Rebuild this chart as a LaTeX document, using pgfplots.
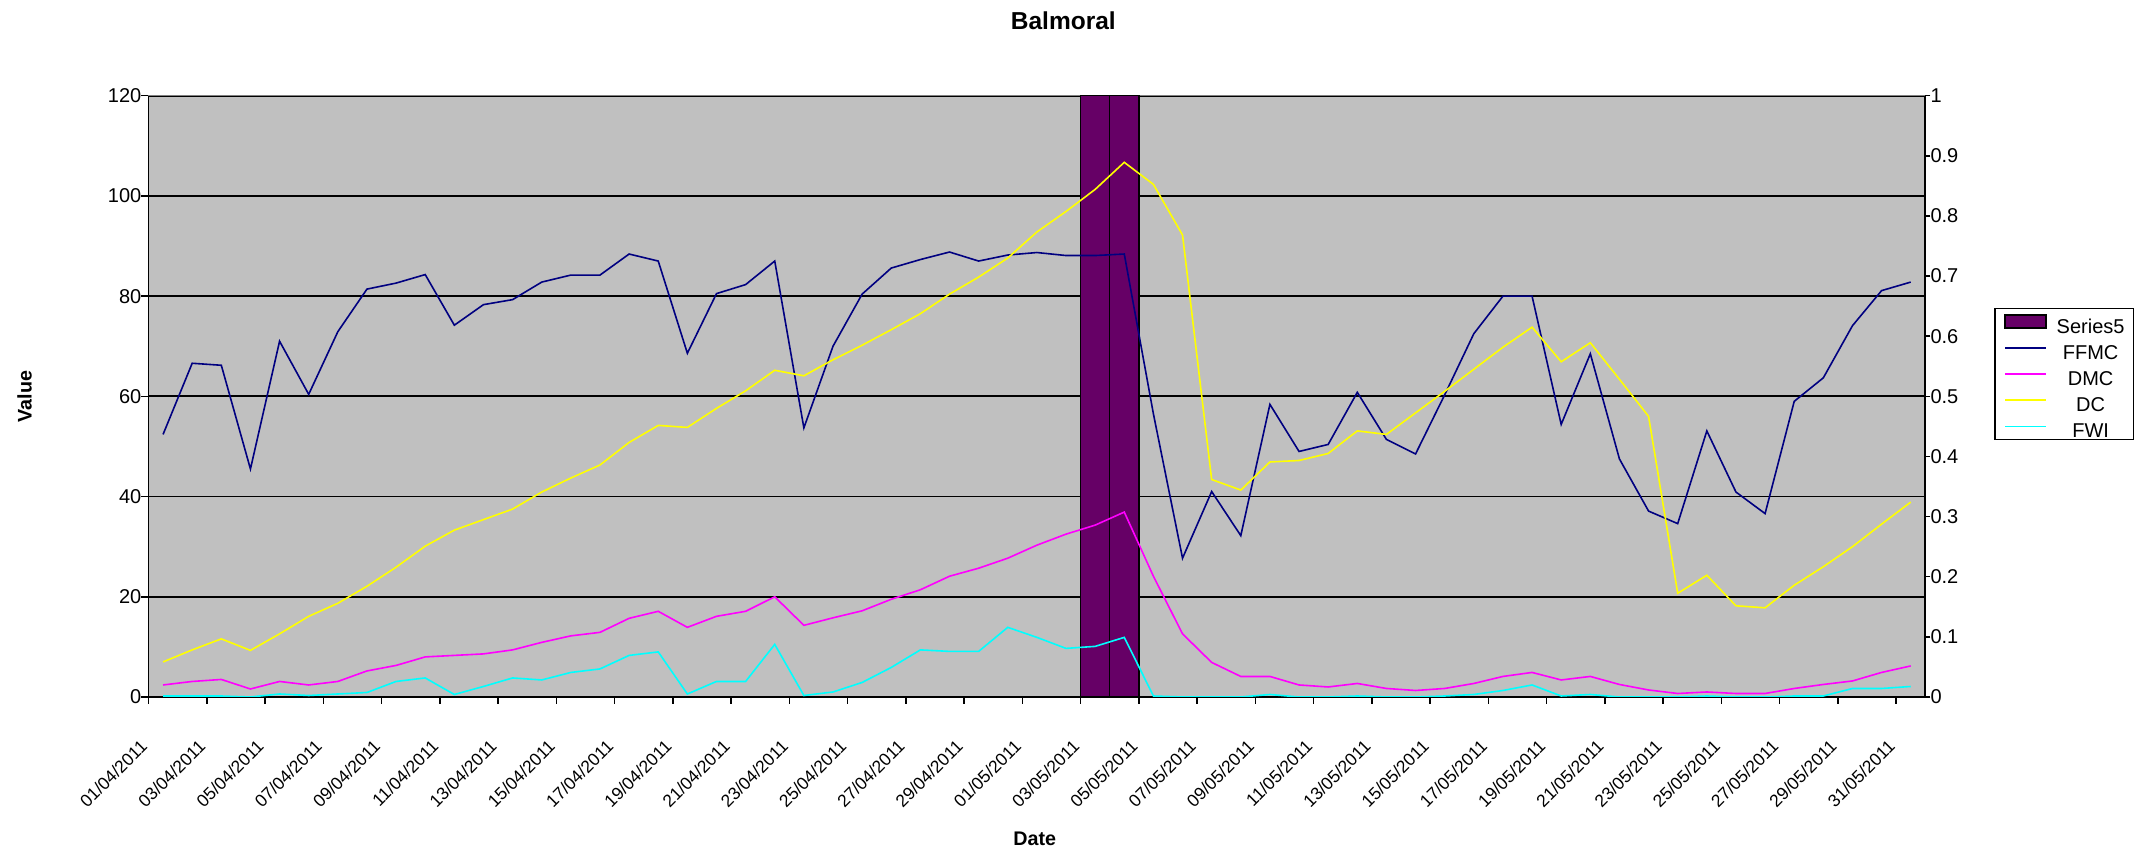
\documentclass[border=0pt]{standalone}
\usepackage{fontspec}
\setmainfont{Liberation Sans}
\usepackage{pgfplots}
\usepackage{pgfplotstable}
\pgfplotsset{compat=1.18}

\definecolor{plotgray}{HTML}{C0C0C0}
\definecolor{framegray}{HTML}{808080}
\definecolor{ffmc}{HTML}{000080}
\definecolor{dmc}{HTML}{FF00FF}
\definecolor{dc}{HTML}{FFFF00}
\definecolor{fwi}{HTML}{00FFFF}
\definecolor{series5}{HTML}{660066}

\newcommand\tickfont{\fontsize{20}{24}\selectfont}
\newcommand\datefont{\fontsize{17.5}{21}\selectfont}
\newcommand\labelfont{\bfseries\fontsize{19.7}{24}\selectfont}

% Daily fire weather indices, Balmoral, 01/04/2011 (day 0) to 31/05/2011 (day 60)
\pgfplotstableread{
day FFMC DMC DC FWI
0 52.4 2.4 7.0 0.2
1 66.6 3.1 9.4 0.2
2 66.2 3.5 11.6 0.2
3 45.5 1.6 9.3 0.0
4 71.0 3.1 12.6 0.6
5 60.4 2.4 16.1 0.3
6 72.9 3.1 18.7 0.6
7 81.4 5.2 22.1 0.9
8 82.6 6.3 25.9 3.1
9 84.3 8.0 30.1 3.8
10 74.2 8.3 33.3 0.5
11 78.3 8.6 35.4 2.1
12 79.3 9.4 37.5 3.8
13 82.8 10.9 40.9 3.4
14 84.2 12.2 43.7 4.9
15 84.2 12.9 46.3 5.6
16 88.4 15.7 50.8 8.3
17 87.0 17.1 54.2 9.0
18 68.6 13.9 53.8 0.6
19 80.5 16.1 57.6 3.1
20 82.3 17.1 61.1 3.1
21 87.0 20.0 65.2 10.5
22 53.7 14.3 64.1 0.3
23 70.0 15.8 67.3 1.0
24 80.4 17.2 70.2 2.9
25 85.6 19.5 73.3 5.9
26 87.3 21.4 76.5 9.4
27 88.8 24.1 80.4 9.1
28 87.0 25.7 83.8 9.1
29 88.2 27.7 87.6 13.9
30 88.7 30.3 92.8 11.9
31 88.1 32.5 96.9 9.7
32 88.1 34.3 101.3 10.1
33 88.4 36.9 106.7 11.9
34 56.5 24.1 102.3 0.2
35 27.7 12.6 92.2 0.0
36 41.0 6.9 43.4 0.0
37 32.2 4.1 41.3 0.0
38 58.4 4.1 46.9 0.5
39 49.0 2.4 47.2 0.0
40 50.4 2.0 48.6 0.0
41 60.8 2.7 53.1 0.2
42 51.4 1.7 52.4 0.0
43 48.5 1.3 56.7 0.0
44 60.3 1.7 61.0 0.2
45 72.5 2.7 65.4 0.5
46 80.0 4.1 69.8 1.3
47 80.0 4.9 73.8 2.4
48 54.4 3.4 66.9 0.2
49 68.5 4.1 70.7 0.5
50 47.5 2.5 63.4 0.0
51 37.1 1.4 56.0 0.0
52 34.6 0.7 20.7 0.0
53 53.1 1.0 24.3 0.2
54 40.9 0.7 18.2 0.0
55 36.6 0.7 17.8 0.0
56 59.0 1.7 22.3 0.2
57 63.7 2.5 26.0 0.2
58 74.1 3.2 30.0 1.7
59 81.1 4.9 34.5 1.7
60 82.8 6.2 38.9 2.1
}\indices

% Series5: marked days 03/05 and 04/05 on the secondary axis
\pgfplotstableread{
day S5
32 1
33 1
}\seriesfive

\pgfplotsset{
  panel/.style={
    scale only axis,
    width=1776.8pt, height=601.3pt,
    xmin=-0.5, xmax=60.5,
    /pgf/number format/assume math mode=true,
  },
}

\begin{document}
\begin{tikzpicture}
% background, grid, frame, ticks and labels
\begin{axis}[
  panel,
  ymin=0, ymax=120,
  axis background/.style={fill=plotgray},
  axis line style={draw=none},
  ymajorgrids,
  grid style={black, line width=1.8pt},
  xtick pos=left, ytick pos=left,
  tick align=outside,
  major tick length=7pt,
  tick style={black, line width=1.5pt},
  ytick={0,20,...,120},
  yticklabels={0,20,40,60,80,100,120},
  yticklabel style={font=\tickfont, anchor=east, inner sep=0pt},
  xtick={-0.5,1.5,...,59.5},
  xticklabels={},
  extra x ticks={0,2,...,60},
  extra x tick labels={01/04/2011,03/04/2011,05/04/2011,07/04/2011,09/04/2011,11/04/2011,13/04/2011,15/04/2011,17/04/2011,19/04/2011,21/04/2011,23/04/2011,25/04/2011,27/04/2011,29/04/2011,01/05/2011,03/05/2011,05/05/2011,07/05/2011,09/05/2011,11/05/2011,13/05/2011,15/05/2011,17/05/2011,19/05/2011,21/05/2011,23/05/2011,25/05/2011,27/05/2011,29/05/2011,31/05/2011},
  extra x tick style={major tick length=0pt},
  xticklabel style={font=\datefont, inner sep=0pt, xshift=-19pt, yshift=-46pt, rotate=45, anchor=east},
  title={Balmoral},
  xlabel={Date},
  ylabel={Value},
  every axis title/.style={at={(axis description cs:0.5149,1.12506)}, anchor=center, font=\bfseries\fontsize{24.5}{29}\selectfont},
  every axis x label/.style={at={(axis description cs:0.4988,-0.23566)}, anchor=center, font=\labelfont},
  every axis y label/.style={at={(axis description cs:-0.06973,0.5)}, rotate=90, anchor=center, font=\labelfont},
  clip=false,
]
\draw[framegray, line width=1.5pt] (rel axis cs:0,1) -- (rel axis cs:1,1);
\draw[black, line width=1.8pt] (rel axis cs:0,1) -- (rel axis cs:0,0) -- (rel axis cs:1,0);
\end{axis}

% secondary axis with the Series5 bars
\begin{axis}[
  panel,
  ymin=0, ymax=1,
  hide x axis,
  axis line style={draw=none},
  ytick pos=right,
  tick align=outside,
  major tick length=5pt,
  tick style={black, line width=1.5pt},
  ytick={0,0.1,0.2,0.3,0.4,0.5,0.6,0.7,0.8,0.9,1},
  yticklabels={0,0.1,0.2,0.3,0.4,0.5,0.6,0.7,0.8,0.9,1},
  yticklabel style={font=\tickfont, anchor=west, inner sep=0pt},
  ybar, bar width=1,
  clip=false,
]
\addplot[fill=series5, draw=black, line width=1.5pt] table[x=day, y=S5] {\seriesfive};
\draw[black, line width=1.8pt] (rel axis cs:1,0) -- (rel axis cs:1,1);
\end{axis}

% index lines and legend
\begin{axis}[
  panel,
  ymin=0, ymax=120,
  hide axis,
  legend image code/.code={\draw[#1] (0pt,0pt) -- (41pt,0pt);},
  legend style={
    at={(axis description cs:1.0387,0.6474)}, anchor=north west,
    draw=black, line width=1.5pt, fill=white,
    inner xsep=9.6pt, inner ysep=0pt,
    font=\tickfont,
    nodes={inner sep=0pt},
    /tikz/column sep=10.2pt,
    /tikz/row sep=0pt,
  },
  legend cell align=left,
]
\addlegendimage{legend image code/.code={\draw[fill=series5, draw=black, line width=1.5pt] (0pt,-6.5pt) rectangle (41pt,6.5pt);}}
\addplot[ffmc, line width=1.6pt] table[x=day, y=FFMC] {\indices};
\addplot[dmc, line width=1.6pt] table[x=day, y=DMC] {\indices};
\addplot[dc, line width=1.6pt] table[x=day, y=DC] {\indices};
\addplot[fwi, line width=1.6pt] table[x=day, y=FWI] {\indices};
\legend{
  \makebox[66.8pt]{\rule[-10.3pt]{0pt}{35pt}Series5},
  \makebox[66.8pt]{\rule[-10.3pt]{0pt}{35pt}FFMC},
  \makebox[66.8pt]{\rule[-10.3pt]{0pt}{35pt}DMC},
  \makebox[66.8pt]{\rule[-10.3pt]{0pt}{35pt}DC},
  \makebox[66.8pt]{\rule[-10.3pt]{0pt}{35pt}FWI}
}
\end{axis}

\path[use as bounding box] (-148.5pt,-153pt) rectangle (1995.5pt,697pt);
\end{tikzpicture}
\end{document}
